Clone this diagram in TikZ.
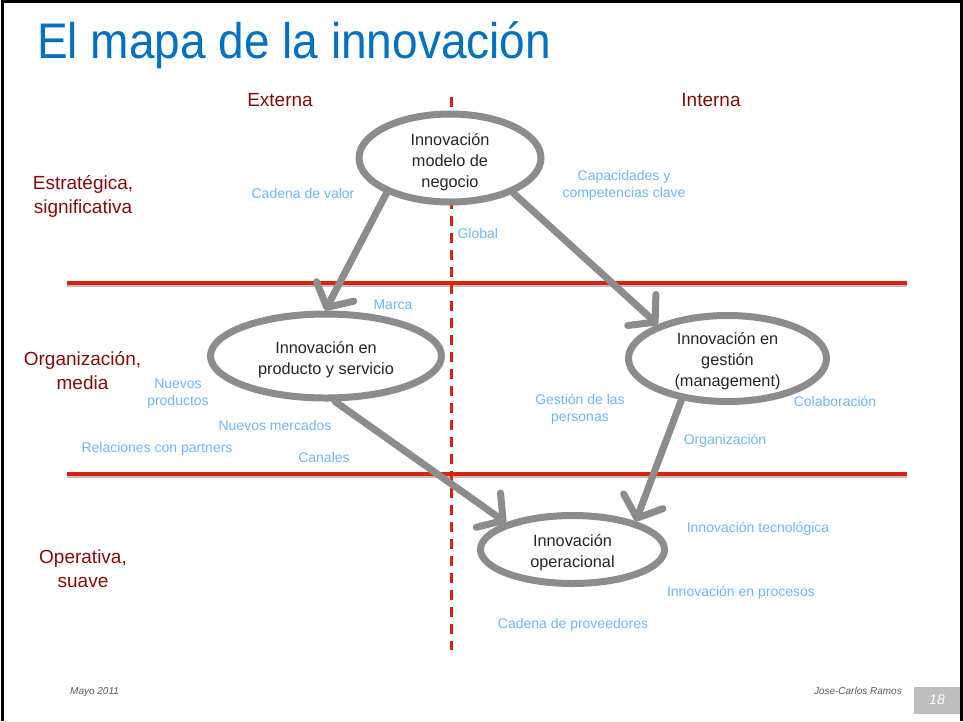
\documentclass[tikz,border=0pt]{standalone}
\usepackage{fontspec}
\setmainfont{Liberation Sans}
\usetikzlibrary{shapes.geometric,arrows.meta}
\definecolor{titleblue}{RGB}{0,112,192}
\definecolor{darkred}{RGB}{130,12,12}
\definecolor{lblue}{RGB}{110,182,250}
\definecolor{ringgray}{RGB}{140,140,140}
\definecolor{linered}{RGB}{218,35,15}
\definecolor{footgray}{RGB}{90,90,90}
\definecolor{boxgray}{RGB}{190,190,190}
\tikzset{
  ring/.style={ellipse, draw=ringgray, fill=white, line width=7pt, inner sep=0pt},
  ringtext/.style={align=center, text=black!85, inner sep=0pt,
    font=\fontsize{16.3}{21}\selectfont},
  flow/.style={draw=ringgray, line width=7pt, line cap=round,
    -{Straight Barb[length=18pt,width=42pt,round]}},
  level/.style={text=darkred, align=center, font=\fontsize{19}{24}\selectfont},
  tag/.style={text=lblue, align=center, font=\fontsize{14}{17}\selectfont},
  rowline/.style={draw=linered, line width=3.5pt},
  rowshadow/.style={draw=black, opacity=0.25, line width=3pt},
  foot/.style={text=footgray, font=\fontsize{10}{12}\selectfont\itshape},
}
\begin{document}
\begin{tikzpicture}[x=1pt,y=-1pt]
\useasboundingbox (0,0) rectangle (963,721);
% frame
\draw[line width=3pt] (2,721) -- (2,1.5) -- (961,1.5) -- (961,721);
% title
\node[anchor=base west, text=titleblue, font=\fontsize{50}{60}\selectfont, inner sep=0pt]
  (title) at (37,58.3) {\scalebox{0.92}[1]{El mapa de la innovación}};
% grid lines
\draw[rowshadow] (67,285.5) -- (907,285.5);
\draw[rowline] (67,283) -- (907,283);
\draw[rowshadow] (67,476.5) -- (907,476.5);
\draw[rowline] (67,474) -- (907,474);
\draw[draw=linered, line width=3pt, dash pattern=on 10pt off 7pt] (451,97) -- (451,650);
% column and row headings
\node[level] (ext) at (280,100) {Externa};
\node[level] (int) at (711,100) {Interna};
\node[level] (estr) at (83,196) {Estratégica,\\significativa};
\node[level] (org) at (82.5,370.5) {Organización,\\media};
\node[level] (oper) at (83,569) {Operativa,\\suave};
% ellipses
\node[ring, minimum width=182pt, minimum height=88pt] (top) at (450,158) {};
\node[ring, minimum width=231pt, minimum height=84pt] (prod) at (326,356) {};
\node[ring, minimum width=198pt, minimum height=86pt] (gest) at (727.5,358.5) {};
\node[ring, minimum width=184pt, minimum height=68pt] (opn) at (572.5,549.5) {};
\node[ringtext] (topt) at ([yshift=-4pt]top.center) {Innovación\\modelo de\\negocio};
\node[ringtext] (prodt) at ([yshift=-4pt]prod.center) {Innovación en\\producto y servicio};
\node[ringtext] (gestt) at ([yshift=-3pt]gest.center) {Innovación en\\gestión\\(management)};
\node[ringtext] (opnt) at ([yshift=-3pt]opn.center) {Innovación\\operacional};
% arrows
\draw[flow] (top.209) -- (prod.91);
\draw[flow] (top.331) -- (gest.154);
\draw[flow] (prod.281) -- (opn.158);
\draw[flow] (gest.222) -- (opn.24);
% blue tags
\node[tag] (t1) at (303,193) {Cadena de valor};
\node[tag] (t2) at (624,185.5) {Capacidades y\\competencias clave};
\node[tag, anchor=west] (t3) at (454,233) {Global};
\node[tag] (t4) at (393,305) {Marca};
\node[tag] (t5) at (178,393.5) {Nuevos\\productos};
\node[tag] (t6) at (275,425) {Nuevos mercados};
\node[tag] (t7) at (157,449) {Relaciones con partners};
\node[tag] (t8) at (324,457) {Canales};
\node[tag] (t9) at (580,409.5) {Gestión de las\\personas};
\node[tag] (t10) at (835,401) {Colaboración};
\node[tag] (t11) at (725,441) {Organización};
\node[tag] (t12) at (758,529) {Innovación tecnológica};
\node[tag] (t13) at (741,593) {Innovación en procesos};
\node[tag] (t14) at (573,625) {Cadena de proveedores};
% footer
\node[foot, anchor=base west, inner sep=0pt] (f1) at (70,694) {Mayo 2011};
\node[foot, anchor=base east, inner sep=0pt] (f2) at (902,694) {Jose-Carlos Ramos};
\node[fill=boxgray, minimum width=46pt, minimum height=27pt, inner sep=0pt,
  text=white, font=\fontsize{14}{16}\selectfont\itshape] (pg) at (937,700) {18};
\end{tikzpicture}
\end{document}
